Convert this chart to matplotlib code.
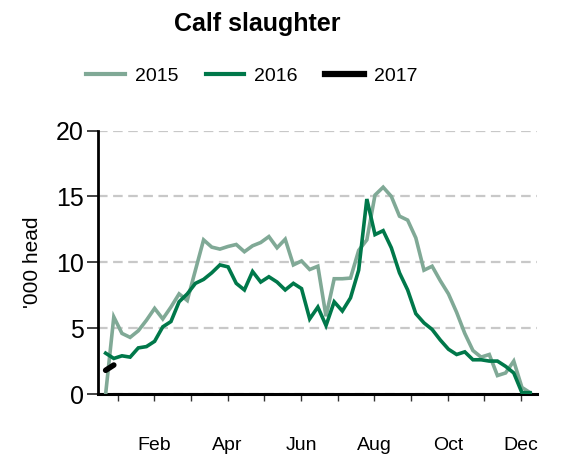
import matplotlib
matplotlib.use("Agg")
import matplotlib.pyplot as plt
from matplotlib.lines import Line2D

plt.rcParams['font.family'] = ['Liberation Sans', 'DejaVu Sans']

# weekly observations (week index 1..53)
weeks = list(range(1, 54))
s2015 = [0.0, 5.85, 4.6, 4.3, 4.8, 5.6, 6.5, 5.7, 6.6, 7.6, 7.1, 9.4, 11.7, 11.15, 11.0, 11.2,
         11.35, 10.8, 11.25, 11.5, 11.95, 11.1, 11.75, 9.8, 10.1, 9.45, 9.7, 5.9, 8.75, 8.75,
         8.8, 10.9, 11.7, 15.1, 15.7, 15.0, 13.5, 13.2, 11.85, 9.4, 9.7, 8.6, 7.6, 6.2, 4.6,
         3.3, 2.8, 3.0, 1.4, 1.6, 2.5, 0.5, 0.1]
s2016 = [3.1, 2.7, 2.9, 2.8, 3.5, 3.6, 4.0, 5.1, 5.5, 7.0, 7.6, 8.4, 8.7, 9.2, 9.8, 9.65,
         8.4, 7.9, 9.3, 8.5, 8.9, 8.5, 7.9, 8.4, 8.0, 5.7, 6.6, 5.2, 7.0, 6.3, 7.3, 9.4, 14.8,
         12.1, 12.4, 11.1, 9.2, 7.9, 6.1, 5.4, 4.9, 4.1, 3.4, 3.0, 3.2, 2.6, 2.6, 2.5, 2.5,
         2.1, 1.6, 0.1, 0.1]
s2017 = [1.8, 2.2]
month_labels = ['', 'Feb', '', 'Apr', '', 'Jun', '', 'Aug', '', 'Oct', '', 'Dec']
yticks = [0, 5, 10, 15, 20]

c2015 = '#80A996'
c2016 = '#00784A'
c2017 = '#000000'

fig = plt.figure(figsize=(5.63, 4.58), dpi=100)
ax = fig.add_axes([0.174, 0.1397, 0.78, 0.5753])

ax.plot(weeks, s2015, color=c2015, lw=2.6, zorder=3, solid_joinstyle='miter')
ax.plot(weeks, s2016, color=c2016, lw=2.6, zorder=4, solid_joinstyle='miter')
ax.plot(weeks[:len(s2017)], s2017, color=c2017, lw=4.0, zorder=5, solid_capstyle='round')

ax.set_ylim(0, 20)
ax.set_xlim(0.06, 53.86)
ax.set_yticks(yticks)
ax.set_yticklabels([str(v) for v in yticks], fontsize=18)
ax.yaxis.grid(True, color='#C8C8C8', lw=1.6, linestyle=(0, (4.3, 2.5)), zorder=1)
ax.set_axisbelow(True)

month_pos = [2.47 + m * 4.494 for m in range(12)]
ax.set_xticks(month_pos)
ax.set_xticklabels(month_labels, fontsize=14)
ax.tick_params(axis='x', length=5, width=1, pad=26, color='#333333')
ax.tick_params(axis='y', length=8, width=1.2, pad=2, color='#222222')

for s in ['top', 'right']:
    ax.spines[s].set_visible(False)
ax.spines['left'].set_linewidth(2)
ax.spines['bottom'].set_linewidth(2.2)

ax.set_ylabel("'000 head", fontsize=15)
ax.yaxis.set_label_coords(-0.128, 0.5)

fig.text(0.457, 0.933, 'Calf slaughter', fontsize=18, fontweight='bold',
         ha='center', va='baseline')

handles = [Line2D([], [], color=c2015, lw=3),
           Line2D([], [], color=c2016, lw=3),
           Line2D([], [], color=c2017, lw=4.5)]
fig.legend(handles, ['2015', '2016', '2017'], loc='center', bbox_to_anchor=(0.447, 0.834),
           ncol=3, frameon=False, fontsize=14, handlelength=2.0, handletextpad=0.5,
           columnspacing=1.4)

fig.savefig('out.png', dpi=100)
